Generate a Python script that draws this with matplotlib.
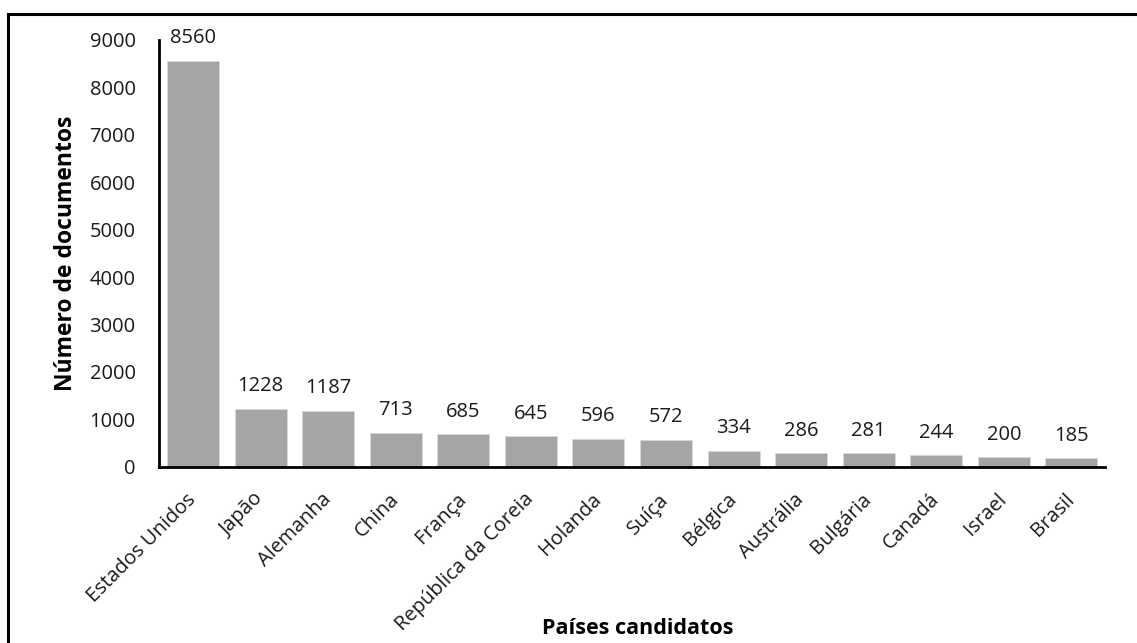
import matplotlib.pyplot as plt
from matplotlib.lines import Line2D
from matplotlib.transforms import ScaledTranslation

paises = ['Estados Unidos', 'Japão', 'Alemanha', 'China', 'França',
          'República da Coreia', 'Holanda', 'Suíça', 'Bélgica', 'Austrália',
          'Bulgária', 'Canadá', 'Israel', 'Brasil']
documentos = [8560, 1228, 1187, 713, 685, 645, 596, 572, 334, 286, 281, 244, 200, 185]
yticks = [0, 1000, 2000, 3000, 4000, 5000, 6000, 7000, 8000, 9000]

plt.rcParams['font.family'] = ['Open Sans', 'DejaVu Sans']
fs = 14.5

fig = plt.figure(figsize=(11.37, 6.43), dpi=100)
ax = fig.add_axes([0.14, 0.274, 0.832, 0.664])

x = list(range(len(paises)))
bars = ax.bar(x, documentos, width=0.77, color='#a5a5a5', edgecolor='#d9d9d9', linewidth=0.6)

for xi, v in zip(x, documentos):
    ax.annotate(str(v), (xi, v), xytext=(0, 9), textcoords='offset points',
                ha='center', va='bottom', fontsize=fs, color='#1a1a1a')

ax.set_xlim(-0.5, len(paises) - 0.5)
ax.set_ylim(0, 9000)
ax.set_yticks(yticks)
ax.set_yticklabels([str(t) for t in yticks], fontsize=fs)
ax.set_xticks(x)
ax.set_xticklabels(paises, rotation=45, ha='right', va='top', rotation_mode='anchor', fontsize=fs)
ax.tick_params(axis='both', length=0, colors='#1a1a1a')
ax.tick_params(axis='y', pad=17)
ax.tick_params(axis='x', pad=12)

# nudge the slanted category names down and to the left
shift = ScaledTranslation(-7 / 100, -6 / 100, fig.dpi_scale_trans)
for lbl in ax.get_xticklabels():
    lbl.set_transform(lbl.get_transform() + shift)

for s in ['top', 'right']:
    ax.spines[s].set_visible(False)
for s in ['left', 'bottom']:
    ax.spines[s].set_linewidth(2)
    ax.spines[s].set_color('black')

ax.set_ylabel('Número de documentos', fontsize=16.5, fontweight='bold', labelpad=8)
fig.text(0.561, 0.023, 'Países candidatos', fontsize=15.5, fontweight='bold', ha='center', va='center')

# outer frame: top and left edges only
fig.add_artist(Line2D([0.007, 1.0], [0.978, 0.978], transform=fig.transFigure, color='black', lw=2.2))
fig.add_artist(Line2D([0.007, 0.007], [0.0, 0.978], transform=fig.transFigure, color='black', lw=2.2))

fig.savefig('out.png', dpi=100)
